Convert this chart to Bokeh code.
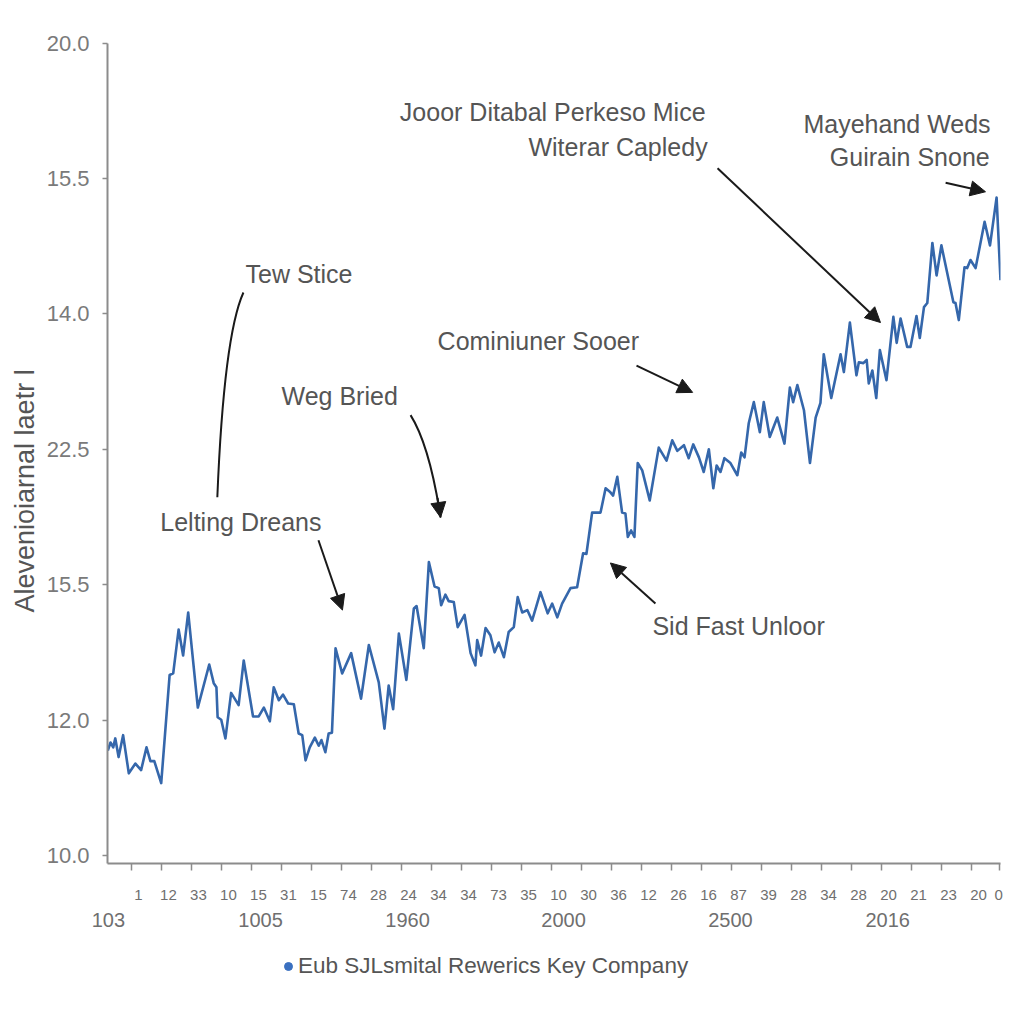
from bokeh.plotting import figure
from bokeh.layouts import column
from bokeh.models import (Range1d, FixedTicker, LinearAxis, Arrow, NormalHead,
                          Label, Legend, LegendItem, Title)
from bokeh.embed import file_html
from bokeh.resources import INLINE

# ---------------- data ----------------
period = [
    -0.02, 0.07, 0.16, 0.23, 0.34, 0.49, 0.68, 0.90, 1.09, 1.27,
    1.40, 1.53, 1.76, 2.04, 2.16, 2.34, 2.49, 2.66, 2.98, 3.36,
    3.51, 3.60, 3.64, 3.76, 3.90, 4.09, 4.34, 4.51, 4.82, 5.01,
    5.18, 5.38, 5.51, 5.68, 5.82, 5.99, 6.18, 6.34, 6.46, 6.57,
    6.71, 6.88, 7.01, 7.10, 7.23, 7.34, 7.45, 7.57, 7.79, 8.09,
    8.42, 8.68, 9.01, 9.20, 9.34, 9.49, 9.68, 9.93, 10.18, 10.27,
    10.51, 10.68, 10.87, 11.01, 11.09, 11.23, 11.34, 11.51, 11.64, 11.87,
    12.07, 12.23, 12.29, 12.42, 12.57, 12.73, 12.87, 13.01, 13.18, 13.34,
    13.51, 13.64, 13.79, 13.96, 14.12, 14.40, 14.64, 14.79, 14.96, 15.12,
    15.40, 15.62, 15.82, 15.93, 16.12, 16.40, 16.57, 16.73, 16.82, 16.96,
    17.12, 17.23, 17.31, 17.42, 17.53, 17.64, 17.79, 18.04, 18.34, 18.60,
    18.79, 18.96, 19.18, 19.34, 19.49, 19.68, 19.84, 20.01, 20.16, 20.27,
    20.40, 20.53, 20.73, 20.96, 21.09, 21.20, 21.34, 21.51, 21.71, 21.84,
    22.04, 22.29, 22.53, 22.71, 22.82, 22.96, 23.18, 23.38, 23.57, 23.73,
    23.84, 24.09, 24.40, 24.51, 24.71, 24.93, 25.01, 25.16, 25.27, 25.34,
    25.46, 25.59, 25.71, 25.93, 26.16, 26.27, 26.40, 26.62, 26.73, 26.93,
    27.04, 27.18, 27.29, 27.46, 27.60, 27.76, 28.16, 28.23, 28.34, 28.53,
    28.62, 28.73, 28.90, 29.20, 29.38, 29.60, 29.73,
]
level = [
    11.29, 11.39, 11.33, 11.44, 11.21, 11.48, 11.01, 11.13, 11.05, 11.33,
    11.16, 11.16, 10.89, 12.22, 12.24, 12.78, 12.46, 12.99, 11.82, 12.35,
    12.12, 12.07, 11.70, 11.67, 11.44, 12.00, 11.85, 12.40, 11.71, 11.71,
    11.82, 11.65, 12.07, 11.91, 11.98, 11.87, 11.86, 11.50, 11.48, 11.17,
    11.33, 11.45, 11.35, 11.42, 11.27, 11.50, 11.51, 12.55, 12.24, 12.49,
    11.93, 12.59, 12.13, 11.56, 12.09, 11.80, 12.73, 12.16, 13.04, 13.07,
    12.55, 13.61, 13.31, 13.29, 13.08, 13.21, 13.13, 13.12, 12.81, 12.96,
    12.49, 12.34, 12.65, 12.46, 12.80, 12.71, 12.50, 12.62, 12.44, 12.75,
    12.81, 13.18, 12.99, 13.02, 12.89, 13.24, 12.98, 13.10, 12.93, 13.10,
    13.29, 13.30, 13.72, 13.71, 14.22, 14.22, 14.52, 14.47, 14.43, 14.66,
    14.22, 14.21, 13.92, 14.00, 13.92, 14.83, 14.74, 14.37, 15.02, 14.86,
    15.11, 14.98, 15.05, 14.89, 15.06, 14.90, 14.72, 15.00, 14.52, 14.80,
    14.72, 14.89, 14.83, 14.68, 14.96, 14.90, 15.32, 15.58, 15.21, 15.58,
    15.15, 15.39, 15.07, 15.76, 15.58, 15.79, 15.48, 14.83, 15.39, 15.57,
    16.17, 15.63, 16.17, 15.95, 16.56, 15.91, 16.07, 16.06, 16.10, 15.81,
    15.97, 15.63, 16.22, 15.85, 16.63, 16.31, 16.61, 16.26, 16.26, 16.64,
    16.37, 16.75, 16.80, 17.54, 17.14, 17.51, 16.81, 16.80, 16.59, 17.24,
    17.23, 17.33, 17.23, 17.80, 17.51, 18.10, 17.08,
]

y_tick_labels = ["10.0", "12.0", "15.5", "22.5", "14.0", "15.5", "20.0"]
x_minor_labels = ["1", "12", "33", "10", "15", "31", "15", "74", "28", "24",
                  "34", "34", "73", "35", "10", "30", "36", "12", "26", "16",
                  "87", "39", "28", "34", "28", "20", "21", "23", "20", "0"]
x_major_labels = ["103", "1005", "1960", "2000", "2500", "2016"]
x_major_pos = [0, 5.07, 9.97, 15.17, 20.73, 25.97]
series_name = "Eub SJLsmital Rewerics Key Company"
y_title = "Alevenioiarnal laetr l"

notes = [  # text, x, y, align
    ("Tew Stice", 4.57, 17.16, "left"),
    ("Weg Bried", 5.77, 15.66, "left"),
    ("Lelting Dreans", 1.73, 14.10, "left"),
    ("Cominiuner Sooer", 10.97, 16.33, "left"),
    ("Jooor Ditabal Perkeso Mice", 19.90, 19.15, "right"),
    ("Witerar Capledy", 19.97, 18.72, "right"),
    ("Mayehand Weds", 29.40, 19.00, "right"),
    ("Guirain Snone", 29.37, 18.60, "right"),
    ("Sid Fast Unloor", 18.13, 12.82, "left"),
]
arrows = [  # x_start, y_start, x_end, y_end
    (7.00, 13.88, 7.80, 13.02),
    (17.60, 16.03, 19.47, 15.70),
    (20.30, 18.46, 25.73, 16.56),
    (27.90, 18.28, 29.23, 18.17),
    (18.23, 13.10, 16.73, 13.60),
]

# ---------------- figure ----------------
GRAY = "#8c8c8c"
p = figure(frame_width=893, frame_height=861,
           x_range=Range1d(-0.03, 29.73), y_range=Range1d(9.90, 20.5),
           output_backend="svg", toolbar_location=None,
           x_axis_location=None, y_axis_location="left",
           min_border_left=107, min_border_top=2, min_border_right=10,
           min_border_bottom=82)
p.outline_line_color = None
p.xgrid.visible = False
p.ygrid.visible = False
p.background_fill_color = "white"

# y axis (its line continues below the x axis down to the long origin tick)
y_ticks = [10 + 10 * i / 6 for i in range(7)]
ya = p.yaxis[0]
ya.bounds = (9.51, 20.0)
ya.ticker = FixedTicker(ticks=y_ticks)
ya.major_label_overrides = {t: l for t, l in zip(y_ticks, y_tick_labels)}
ya.axis_line_color = GRAY
ya.axis_line_width = 2
ya.major_tick_line_color = GRAY
ya.major_tick_line_width = 1.5
ya.major_tick_out = 5
ya.major_tick_in = 0
ya.minor_tick_line_color = None
ya.major_label_text_font = "Liberation Sans"
ya.major_label_text_font_size = "22px"
ya.major_label_text_color = "#7a7a7a"
ya.major_label_standoff = 13

p.add_layout(Title(text=y_title, align="left", offset=251,
                   text_font="Liberation Sans", text_font_size="27px",
                   text_font_style="normal", text_color="#555555",
                   standoff=8), "left")

# x axis: small labels row
minor_label_pos = list(range(1, 30)) + [29.67]
minor_tick_pos = [k - 0.23 for k in range(1, 30)] + [29.70]
ax_a = LinearAxis(
    ticker=FixedTicker(ticks=minor_label_pos, minor_ticks=minor_tick_pos),
    major_label_overrides={t: l for t, l in zip(minor_label_pos, x_minor_labels)},
    axis_line_color=GRAY, axis_line_width=2,
    major_tick_line_color=None, major_tick_out=0, major_tick_in=0,
    minor_tick_line_color=GRAY, minor_tick_line_width=1.5,
    minor_tick_out=7, minor_tick_in=0,
    major_label_text_font="Liberation Sans",
    major_label_text_font_size="15px",
    major_label_text_color="#6f6f6f",
    major_label_standoff=19,
)
p.add_layout(ax_a, "below")

# x axis: large labels row
ax_b = LinearAxis(
    ticker=FixedTicker(ticks=x_major_pos),
    major_label_overrides={t: l for t, l in zip(x_major_pos, x_major_labels)},
    axis_line_color=None,
    major_tick_line_color=None, major_tick_out=0, major_tick_in=0,
    minor_tick_line_color=None, minor_tick_out=0, minor_tick_in=0,
    major_label_text_font="Liberation Sans",
    major_label_text_font_size="20px",
    major_label_text_color="#6f6f6f",
    major_label_standoff=10,
)
p.add_layout(ax_b, "below")

# series
LINE = "#3567ab"
p.line(period, level, line_color=LINE, line_width=2.6, line_join="round")

# annotations
for text, x, y, align in notes:
    p.add_layout(Label(x=x, y=y, text=text, text_align=align,
                       text_baseline="middle", text_font="Liberation Sans",
                       text_font_size="25px", text_color="#555555"))

for xs, ys, xe, ye in arrows:
    p.add_layout(Arrow(x_start=xs, y_start=ys, x_end=xe, y_end=ye,
                       line_color="#1a1a1a", line_width=2,
                       end=NormalHead(size=15, fill_color="#1a1a1a",
                                      line_color="#1a1a1a")))

# curved connectors
p.quadratic(x0=[4.50], y0=[16.93], x1=[3.63], y1=[14.41], cx=[3.85], cy=[16.40],
            line_color="#1a1a1a", line_width=2)
p.quadratic(x0=[10.07], y0=[15.42], x1=[11.07], y1=[14.16], cx=[10.70], cy=[15.05],
            line_color="#1a1a1a", line_width=2)
p.add_layout(Arrow(x_start=10.97, y_start=14.40, x_end=11.07, y_end=14.16,
                   line_color="#1a1a1a", line_width=2,
                   end=NormalHead(size=15, fill_color="#1a1a1a",
                                  line_color="#1a1a1a")))

# legend strip below the chart (its frame lines up with the chart's frame)
q = figure(width=1010, height=40, x_range=Range1d(0, 10), y_range=Range1d(0, 10),
           output_backend="svg", toolbar_location=None,
           x_axis_location=None, y_axis_location=None,
           min_border_left=107, min_border_right=10,
           min_border_top=0, min_border_bottom=0)
q.outline_line_color = None
q.xgrid.visible = False
q.ygrid.visible = False
dot = q.scatter(x=[float("nan")], y=[float("nan")], size=8,
                color="#3a70c0", marker="circle")
legend = Legend(items=[LegendItem(label=series_name, renderers=[dot])],
                location=(171, 6), orientation="horizontal",
                border_line_color=None, background_fill_alpha=0,
                label_text_font="Liberation Sans", label_text_font_size="22.5px",
                label_text_color="#555555", glyph_width=20, glyph_height=20,
                label_standoff=0, padding=4, margin=0)
q.add_layout(legend)

page = column(p, q, spacing=0)
open("out.html", "w").write(file_html(page, INLINE))
